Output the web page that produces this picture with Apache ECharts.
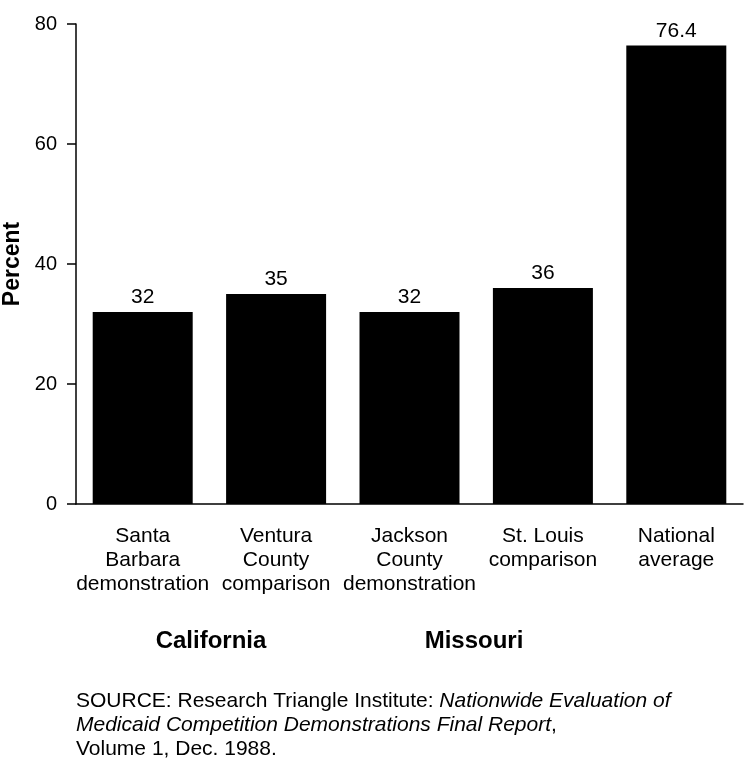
<!DOCTYPE html>
<html>
<head>
<meta charset="utf-8">
<script src="https://cdn.jsdelivr.net/npm/echarts@6/dist/echarts.min.js"></script>
<style>
html,body{margin:0;padding:0;background:#fff;}
#chart{width:744px;height:771px;}
</style>
</head>
<body>
<div id="chart"></div>
<script>
var categories = ['Santa\nBarbara\ndemonstration', 'Ventura\nCounty\ncomparison', 'Jackson\nCounty\ndemonstration', 'St. Louis\ncomparison', 'National\naverage'];
var values = [32, 35, 32, 36, 76.4];
var valueLabels = ['32', '35', '32', '36', '76.4'];
var groupLabels = ['California', 'Missouri'];
var yAxisName = 'Percent';
var yMin = 0, yMax = 80, yStep = 20;

var FONT = '"Liberation Sans", Arial, sans-serif';
var chart = echarts.init(document.getElementById('chart'), null, {renderer: 'canvas'});

var option = {
  backgroundColor: '#ffffff',
  animation: false,
  grid: {left: 76, top: 24, width: 667, height: 480, containLabel: false, outerBoundsMode: 'none'},
  xAxis: {
    type: 'category',
    data: categories,
    axisLine: {show: true, lineStyle: {color: '#000', width: 1.5}},
    axisTick: {show: false},
    axisLabel: {
      color: '#000', fontFamily: FONT, fontSize: 21, lineHeight: 24, margin: 20,
      interval: 0
    }
  },
  yAxis: {
    type: 'value',
    min: yMin, max: yMax, interval: yStep,
    name: yAxisName,
    nameLocation: 'middle',
    nameGap: 50,
    nameRotate: 90,
    nameTextStyle: {color: '#000', fontFamily: FONT, fontSize: 23, fontWeight: 'bold'},
    axisLine: {show: true, lineStyle: {color: '#000', width: 1.5}},
    axisTick: {show: true, length: 9, lineStyle: {color: '#000', width: 1.5}},
    axisLabel: {color: '#000', fontFamily: FONT, fontSize: 20, margin: 19},
    splitLine: {show: false}
  },
  series: [{
    type: 'bar',
    data: values,
    barWidth: 100,
    itemStyle: {color: '#000'},
    label: {
      show: true, position: 'top', distance: 4,
      color: '#000', fontFamily: FONT, fontSize: 21,
      formatter: function (p) { return valueLabels[p.dataIndex]; }
    }
  }],
  graphic: [
    {type: 'text', x: 211, y: 629, style: {text: groupLabels[0], font: 'bold 24px ' + FONT, fill: '#000', textAlign: 'center', textVerticalAlign: 'top'}},
    {type: 'text', x: 474, y: 629, style: {text: groupLabels[1], font: 'bold 24px ' + FONT, fill: '#000', textAlign: 'center', textVerticalAlign: 'top'}},
    {type: 'text', x: 76, y: 689, style: {
      text: 'SOURCE: Research Triangle Institute: {i|Nationwide Evaluation of}\n{i|Medicaid Competition Demonstrations Final Report},\nVolume 1, Dec. 1988.',
      font: '21px ' + FONT, fill: '#000', lineHeight: 24, textVerticalAlign: 'top',
      rich: {i: {fontStyle: 'italic', fontFamily: FONT, fontSize: 21, fill: '#000', lineHeight: 24}}
    }}
  ]
};
chart.setOption(option);
</script>
</body>
</html>
